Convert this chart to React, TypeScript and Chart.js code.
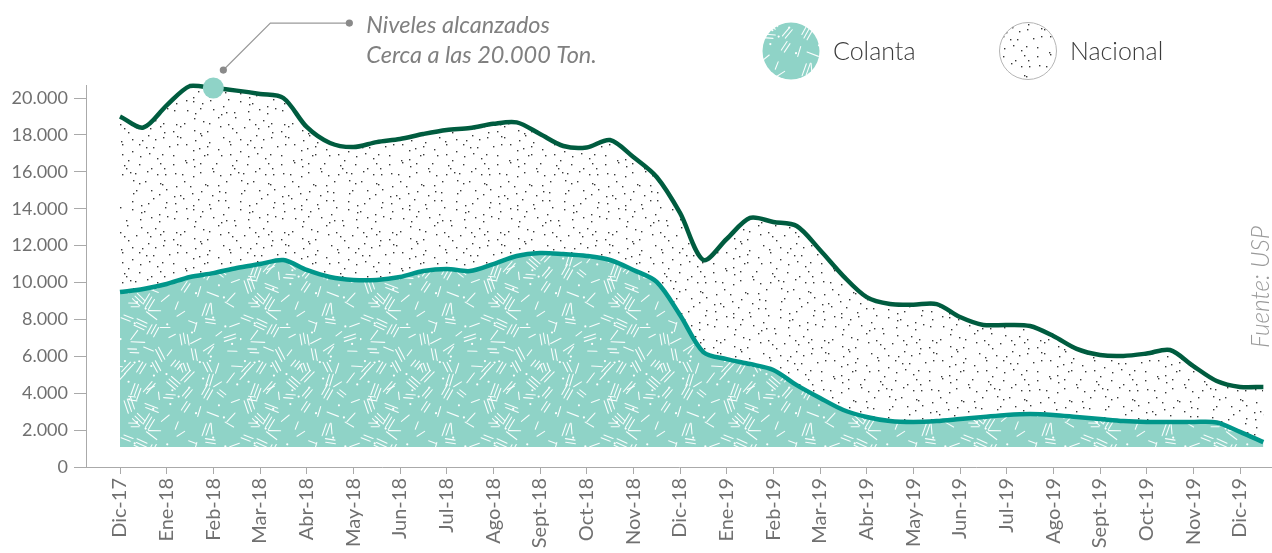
import React, { useEffect, useRef } from 'react';
import { Chart, registerables } from 'chart.js';

Chart.register(...registerables);

// Month tick labels (one per month)
const months = ['Dic-17', 'Ene-18', 'Feb-18', 'Mar-18', 'Abr-18', 'May-18', 'Jun-18', 'Jul-18', 'Ago-18', 'Sept-18', 'Oct-18', 'Nov-18', 'Dic-18', 'Ene-19', 'Feb-19', 'Mar-19', 'Abr-19', 'May-19', 'Jun-19', 'Jul-19', 'Ago-19', 'Sept-19', 'Oct-19', 'Nov-19', 'Dic-19'];

// Y tick values
const yTicks = [0, 2000, 4000, 6000, 8000, 10000, 12000, 14000, 16000, 18000, 20000];

// Half-month samples starting at Dic-17 (tons)
const nacional = [19000, 18400, 19600, 20650, 20540, 20400, 20220, 20000, 18430, 17560, 17340, 17610, 17780, 18050, 18270, 18370, 18600, 18680, 18050, 17400, 17320, 17720, 16800, 15720, 13770, 11220, 12360, 13500, 13280, 13060, 11760, 10350, 9210, 8830, 8800, 8830, 8130, 7700, 7700, 7640, 7100, 6400, 6070, 6020, 6150, 6340, 5470, 4660, 4340, 4340];
const colanta = [9480, 9650, 9920, 10300, 10510, 10790, 11000, 11220, 10680, 10300, 10140, 10140, 10300, 10620, 10730, 10620, 11000, 11440, 11600, 11540, 11440, 11220, 10680, 10030, 8240, 6230, 5850, 5580, 5260, 4440, 3740, 3090, 2710, 2490, 2440, 2490, 2600, 2710, 2820, 2870, 2820, 2710, 2600, 2490, 2440, 2440, 2440, 2410, 1900, 1350];

const fillBase = 1080;
const markerIndex = 4; // Feb-18 peak
const seriesNames = ['Colanta', 'Nacional'];
const noteLines = ['Niveles alcanzados', 'Cerca a las 20.000 Ton.'];
const sourceText = 'Fuente: USP';

const FONT = 'Lato, "Open Sans", sans-serif';

function rng(seed: number) {
  let s = seed;
  return () => {
    s |= 0; s = (s + 0x6d2b79f5) | 0;
    let t = Math.imul(s ^ (s >>> 15), 1 | s);
    t = (t + Math.imul(t ^ (t >>> 7), 61 | t)) ^ t;
    return ((t ^ (t >>> 14)) >>> 0) / 4294967296;
  };
}

function makeStrokePattern(ctx: CanvasRenderingContext2D) {
  const S = 120;
  const cell = 15;
  const c = document.createElement('canvas');
  c.width = S; c.height = S;
  const g = c.getContext('2d')!;
  g.fillStyle = '#8fd3c7';
  g.fillRect(0, 0, S, S);
  const r = rng(11);
  g.strokeStyle = 'rgba(255,255,255,0.95)';
  g.lineWidth = 1.1;
  g.lineCap = 'round';
  const angles = [0.45, 0.7, -0.6, -0.4, 1.45, 1.15, 2.3, 0.1, -1.0, 1.9];
  const seg = (x: number, y: number, dx: number, dy: number) => {
    for (const ox of [-S, 0, S]) for (const oy of [-S, 0, S]) {
      g.beginPath();
      g.moveTo(x + ox - dx, y + oy - dy);
      g.lineTo(x + ox + dx, y + oy + dy);
      g.stroke();
    }
  };
  for (let gy = 0; gy < S / cell; gy++) {
    for (let gx = 0; gx < S / cell; gx++) {
      const x = gx * cell + r() * cell, y = gy * cell + r() * cell;
      const a = angles[Math.floor(r() * angles.length)] + (r() - 0.5) * 0.2;
      const L = 7 + r() * 7;
      const dx = (Math.cos(a) * L) / 2, dy = (Math.sin(a) * L) / 2;
      const nx = -Math.sin(a), ny = Math.cos(a);
      const count = r() < 0.45 ? 1 : r() < 0.7 ? 2 : 3;
      for (let k = 0; k < count; k++) {
        const off = (k - (count - 1) / 2) * 3.6;
        const sh = (r() - 0.5) * 3;
        seg(x + nx * off + Math.cos(a) * sh, y + ny * off + Math.sin(a) * sh, dx, dy);
      }
    }
  }
  g.fillStyle = '#ffffff';
  for (let n = 0; n < 30; n++) {
    const x = r() * S, y = r() * S;
    g.beginPath();
    g.arc(x, y, 1.1, 0, Math.PI * 2);
    g.fill();
  }
  return ctx.createPattern(c, 'repeat')!;
}

function makeDotPattern(ctx: CanvasRenderingContext2D) {
  const cell = 9;
  const S = cell * 12;
  const c = document.createElement('canvas');
  c.width = S; c.height = S;
  const g = c.getContext('2d')!;
  const r = rng(5);
  g.fillStyle = 'rgba(20,20,20,0.85)';
  for (let gy = 0; gy < 12; gy++) {
    for (let gx = 0; gx < 12; gx++) {
      const x = Math.floor(gx * cell + r() * (cell - 1));
      const y = Math.floor(gy * cell + r() * (cell - 1));
      g.fillRect(x, y, 1.4, 1.4);
    }
  }
  return ctx.createPattern(c, 'repeat')!;
}

const fmt = (v: number) => String(v).replace(/\B(?=(\d{3})+(?!\d))/g, '.');

export default function App() {
  const ref = useRef<HTMLCanvasElement>(null);

  useEffect(() => {
    const canvas = ref.current!;
    const ctx = canvas.getContext('2d')!;
    const strokePat = makeStrokePattern(ctx);
    const dotPat = makeDotPattern(ctx);

    const xMin = -0.7286;
    const xMax = 24.685;
    const yMax = 20705;

    const decor = {
      id: 'decor',
      afterDraw(chart: any) {
        const c = chart.ctx as CanvasRenderingContext2D;
        c.save();
        // leader annotation
        const pt = chart.getDatasetMeta(1).data[markerIndex];
        const px = pt.x, py = pt.y;
        const d1 = { x: px + 10, y: py - 18 };
        const k1 = { x: px + 57, y: py - 65 };
        const d2 = { x: px + 136, y: py - 65 };
        c.strokeStyle = '#9a9a9a';
        c.lineWidth = 1.2;
        c.beginPath();
        c.moveTo(d1.x, d1.y); c.lineTo(k1.x, k1.y); c.lineTo(d2.x, d2.y);
        c.stroke();
        c.fillStyle = '#8a8a8a';
        for (const d of [d1, d2]) { c.beginPath(); c.arc(d.x, d.y, 3.6, 0, Math.PI * 2); c.fill(); }
        c.fillStyle = '#808080';
        c.font = `italic 400 23.5px ${FONT}`;
        c.textAlign = 'left';
        c.textBaseline = 'alphabetic';
        c.fillText(noteLines[0], px + 153, 33);
        c.fillText(noteLines[1], px + 153, 63);

        // legend
        c.beginPath(); c.arc(791, 51, 28.5, 0, Math.PI * 2);
        c.fillStyle = strokePat; c.fill();
        c.beginPath(); c.arc(1028, 51, 28.5, 0, Math.PI * 2);
        c.fillStyle = '#ffffff'; c.fill();
        c.fillStyle = dotPat; c.fill();
        c.strokeStyle = '#b5b5b5'; c.lineWidth = 1; c.stroke();
        c.fillStyle = '#3a3a3a';
        c.font = `300 25px ${FONT}`;
        c.textBaseline = 'middle';
        c.fillText(chart.data.datasets[0].label, 833, 52);
        c.fillText(chart.data.datasets[1].label, 1070, 52);

        // source
        c.translate(1261, 287);
        c.rotate(-Math.PI / 2);
        c.textAlign = 'center';
        c.fillStyle = '#9a9a9a';
        c.font = `italic 300 24.5px ${FONT}`;
        c.fillText(sourceText, 0, 0);
        c.restore();
      },
    };

    const chart = new Chart(canvas, {
      type: 'line',
      data: {
        datasets: [
          {
            label: seriesNames[0],
            data: colanta.map((v, k) => ({ x: k / 2, y: v })),
            borderColor: '#00968a',
            borderWidth: 4.5,
            backgroundColor: strokePat,
            fill: { value: fillBase },
            tension: 0.3,
            pointRadius: 0,
            clip: false,
          },
          {
            label: seriesNames[1],
            data: nacional.map((v, k) => ({ x: k / 2, y: v })),
            borderColor: '#005c3f',
            borderWidth: 4.5,
            backgroundColor: dotPat,
            fill: { value: fillBase },
            tension: 0.3,
            pointRadius: (c: any) => (c.dataIndex === markerIndex ? 10.5 : 0),
            pointHoverRadius: (c: any) => (c.dataIndex === markerIndex ? 10.5 : 0),
            pointBackgroundColor: '#8fd3c7',
            pointBorderWidth: 0,
            clip: false,
          },
        ],
      },
      options: {
        responsive: false,
        animation: false,
        devicePixelRatio: 1,
        layout: { padding: { top: 85, left: 0, right: 0, bottom: 0 } },
        plugins: { legend: { display: false }, tooltip: { enabled: false } },
        font: { family: FONT },
        scales: {
          x: {
            type: 'linear',
            min: xMin,
            max: xMax,
            afterBuildTicks: (s: any) => { s.ticks = months.map((_, i) => ({ value: i })); },
            afterFit: (s: any) => { s.height = 86; },
            ticks: {
              autoSkip: false,
              minRotation: 90,
              maxRotation: 90,
              padding: 4,
              color: '#707070',
              font: { family: FONT, size: 20 },
              callback: (v: any) => months[v] ?? '',
            },
            grid: { drawOnChartArea: false, drawTicks: true, tickLength: 7, color: '#aaa' },
            border: { display: true, color: '#aaa', width: 1 },
          },
          y: {
            min: 0,
            max: yMax,
            afterBuildTicks: (s: any) => { s.ticks = yTicks.map((v) => ({ value: v })); },
            afterFit: (s: any) => { s.width = 86; },
            ticks: {
              padding: 6,
              color: '#707070',
              font: { family: FONT, size: 18 },
              callback: (v: any) => fmt(v),
            },
            grid: { drawOnChartArea: false, drawTicks: true, tickLength: 12, color: '#aaa' },
            border: { display: true, color: '#aaa', width: 1 },
          },
        },
      } as any,
      plugins: [decor],
    });
    return () => chart.destroy();
  }, []);

  return (
    <div style={{ position: 'absolute', left: 0, top: 0, width: 1272, height: 553 }}>
      <canvas ref={ref} width={1272} height={553} style={{ display: 'block', width: 1272, height: 553 }} />
    </div>
  );
}
